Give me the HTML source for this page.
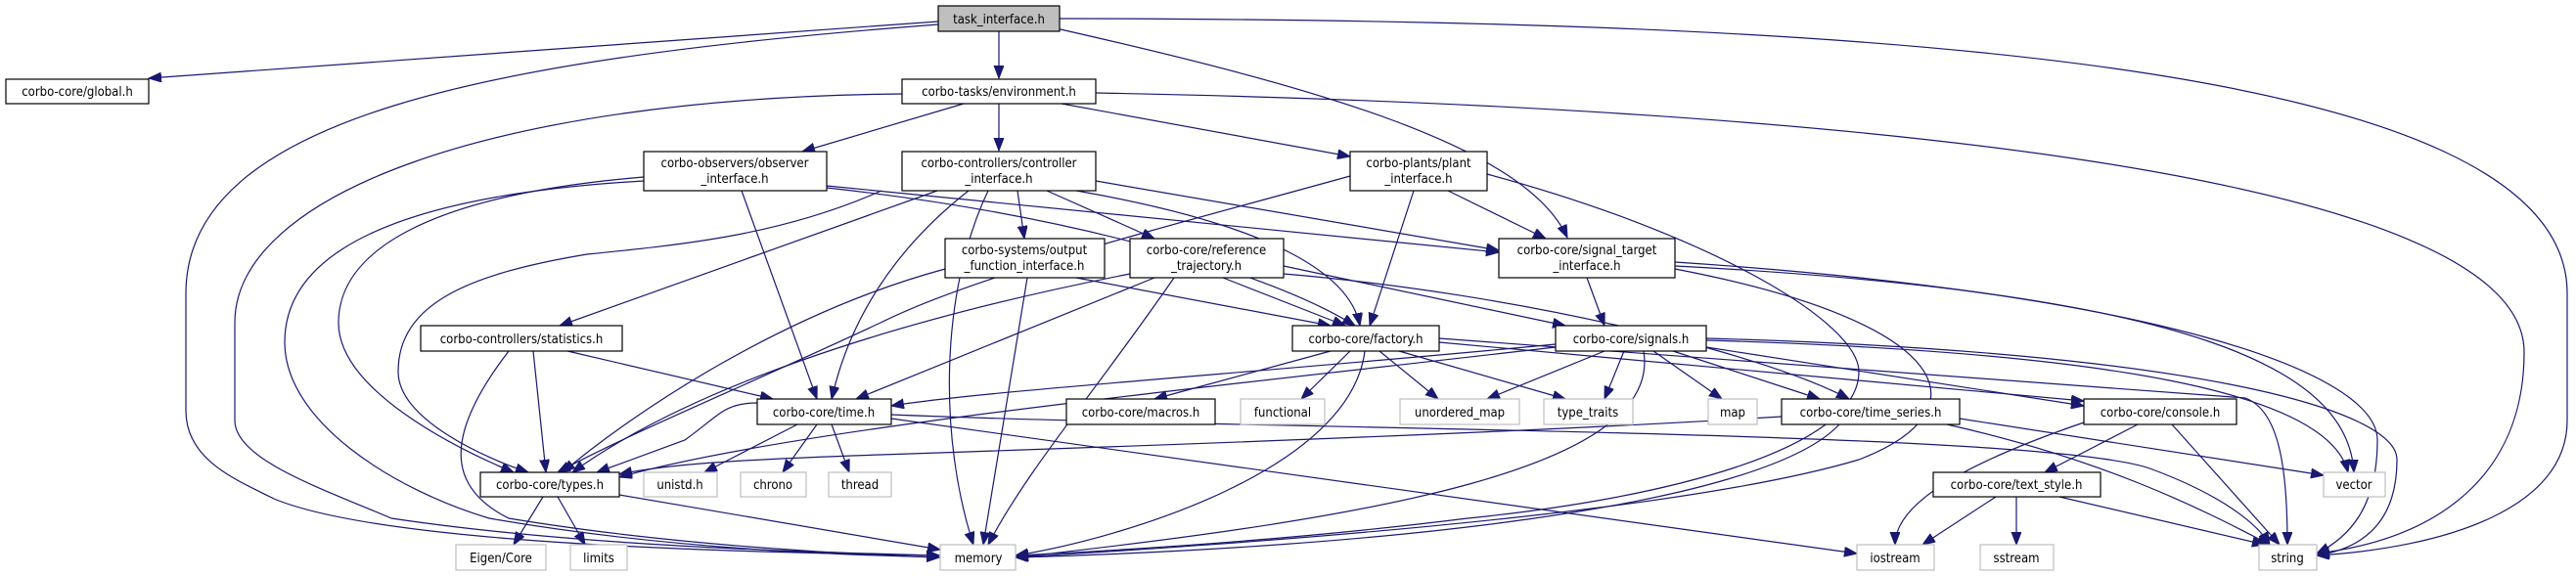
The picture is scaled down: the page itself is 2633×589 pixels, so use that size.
<!DOCTYPE html>
<html><head><meta charset="utf-8"><style>
html,body{margin:0;padding:0;background:#fff;}
svg{display:block}
text{font-family:"DejaVu Sans Condensed","Liberation Sans",sans-serif;font-size:13px;fill:#000;text-anchor:middle}
.e{fill:none;stroke:#191970;stroke-width:1.2}
.b{fill:#fff;stroke:#000;stroke-width:1.2}
.g{fill:#fff;stroke:#bfbfbf;stroke-width:1.2}
</style></head><body>
<svg width="2633" height="589" viewBox="0 0 2633 589" xmlns="http://www.w3.org/2000/svg">
<defs><marker id="a" markerUnits="userSpaceOnUse" markerWidth="14" markerHeight="12" refX="13" refY="5" orient="auto"><path d="M0,0 L13,5 L0,10 z" fill="#191970" stroke="#191970"/></marker></defs>
<g class="e" marker-end="url(#a)">
<path d="M959,22 L152,80"/>
<path d="M1021,32 L1021,80"/>
<path d="M959,25 C500,60 190,120 190,300 L190,420 C190,470 240,490 280,510 C400,560 800,565 960,568"/>
<path d="M1075,28 C1350,90 1560,150 1602,243"/>
<path d="M1083,19 C1900,20 2624,60 2624,300 L2624,430 C2624,520 2500,560 2368,568"/>
<path d="M985,106 L820,155"/>
<path d="M1021,106 L1021,154"/>
<path d="M1085,106 L1380,160"/>
<path d="M922,96 C500,100 240,200 240,330 L240,430 C240,470 330,500 400,530 C600,560 850,565 960,568"/>
<path d="M1120,95 C1900,110 2580,180 2580,360 C2580,480 2500,550 2368,566"/>
<path d="M658,181 C430,200 346,260 346,330 C346,400 470,460 525,483"/>
<path d="M658,185 C400,200 291,260 291,350 C291,430 400,500 500,530 C700,565 900,568 960,570"/>
<path d="M758,195 L835,408"/>
<path d="M845,190 L1532,258"/>
<path d="M845,192 C1100,220 1300,280 1385,333"/>
<path d="M958,195 L572,333"/>
<path d="M901,195 C800,240 700,250 600,260 C480,280 407,310 407,380 C407,430 500,470 540,483"/>
<path d="M990,195 C920,250 870,320 850,408"/>
<path d="M1010,195 C960,300 960,450 995,557"/>
<path d="M1100,195 C1300,230 1380,280 1390,333"/>
<path d="M1040,195 L1047,244"/>
<path d="M1070,195 L1180,244"/>
<path d="M1120,185 L1532,256"/>
<path d="M1380,180 C1200,230 1000,280 900,330 C750,400 650,440 570,483"/>
<path d="M1445,195 L1400,333"/>
<path d="M1480,195 L1580,244"/>
<path d="M1520,178 C1750,240 1900,330 1900,380 C1900,460 1700,510 1500,530 C1300,555 1100,565 1038,568"/>
<path d="M1622,284 L1640,333"/>
<path d="M1712,275 C2000,330 2030,420 1900,470 C1700,530 1200,560 1038,570"/>
<path d="M1712,268 C2200,300 2430,380 2430,450 C2430,520 2400,550 2368,566"/>
<path d="M1712,272 C2250,300 2400,380 2406,483"/>
<path d="M966,275 C800,320 650,420 575,483"/>
<path d="M1100,284 L1360,333"/>
<path d="M1050,284 L1005,557"/>
<path d="M1155,280 C900,330 700,400 585,483"/>
<path d="M1180,284 L875,408"/>
<path d="M1200,284 C1120,400 1050,480 1010,557"/>
<path d="M1250,284 L1375,333"/>
<path d="M1312,272 L1600,333"/>
<path d="M1312,280 C1550,300 1800,360 1890,408"/>
<path d="M545,359 L558,483"/>
<path d="M580,359 L790,408"/>
<path d="M520,359 C450,450 460,500 520,530 C700,560 900,568 960,570"/>
<path d="M1360,359 L1180,408"/>
<path d="M1380,359 L1330,408"/>
<path d="M1410,359 L1470,408"/>
<path d="M1430,359 L1600,408"/>
<path d="M1395,359 C1380,480 1150,550 1038,568"/>
<path d="M1471,350 C1800,380 2000,400 2130,410"/>
<path d="M1471,346 L2295,407 C2330,420 2338,480 2338,557"/>
<path d="M1590,352 C1300,380 1000,400 911,415"/>
<path d="M1590,355 C1200,400 800,440 633,488"/>
<path d="M1640,359 L1520,408"/>
<path d="M1660,359 L1640,408"/>
<path d="M1690,359 L1760,408"/>
<path d="M1710,359 L1860,408"/>
<path d="M1744,355 L2130,415"/>
<path d="M1680,359 C1700,480 1400,530 1038,570"/>
<path d="M1744,348 C2150,360 2380,400 2400,483"/>
<path d="M1744,346 C2250,360 2450,420 2450,470 C2450,530 2420,560 2368,568"/>
<path d="M774,412 C740,412 735,425 700,450 L610,483"/>
<path d="M815,434 L720,483"/>
<path d="M835,434 L800,483"/>
<path d="M850,434 L868,483"/>
<path d="M911,428 L1898,566"/>
<path d="M911,424 C1300,440 2100,440 2200,480 C2280,510 2310,540 2320,557"/>
<path d="M1821,426 C1600,440 1200,455 900,465 C750,470 680,475 633,485"/>
<path d="M1880,434 C1800,520 1400,560 1038,570"/>
<path d="M2003,428 L2375,486"/>
<path d="M1990,434 C2150,470 2250,520 2320,557"/>
<path d="M2130,432 C1990,480 1937,520 1937,557"/>
<path d="M2185,434 L2090,483"/>
<path d="M2220,434 L2330,557"/>
<path d="M2040,508 L1965,557"/>
<path d="M2061,508 L2061,557"/>
<path d="M2105,508 L2315,557"/>
<path d="M555,508 L525,557"/>
<path d="M570,508 L598,557"/>
<path d="M633,506 L961,562"/>
</g>
<!-- nodes -->
<rect x="959" y="6" width="124" height="26" fill="#bfbfbf" stroke="#000" stroke-width="1.2"/><text x="1021" y="24">task_interface.h</text>
<rect class="b" x="6" y="81" width="146" height="25"/><text x="79" y="98">corbo-core/global.h</text>
<rect class="b" x="922" y="81" width="198" height="25"/><text x="1021" y="98">corbo-tasks/environment.h</text>
<rect class="b" x="658" y="155" width="187" height="40"/><text x="751" y="171">corbo-observers/observer</text><text x="751" y="187">_interface.h</text>
<rect class="b" x="922" y="155" width="198" height="40"/><text x="1021" y="171">corbo-controllers/controller</text><text x="1021" y="187">_interface.h</text>
<rect class="b" x="1380" y="155" width="140" height="40"/><text x="1450" y="171">corbo-plants/plant</text><text x="1450" y="187">_interface.h</text>
<rect class="b" x="966" y="244" width="163" height="40"/><text x="1047" y="260">corbo-systems/output</text><text x="1047" y="276">_function_interface.h</text>
<rect class="b" x="1155" y="244" width="157" height="40"/><text x="1233" y="260">corbo-core/reference</text><text x="1233" y="276">_trajectory.h</text>
<rect class="b" x="1532" y="244" width="180" height="40"/><text x="1622" y="260">corbo-core/signal_target</text><text x="1622" y="276">_interface.h</text>
<rect class="b" x="430" y="333" width="206" height="26"/><text x="533" y="351">corbo-controllers/statistics.h</text>
<rect class="b" x="1321" y="333" width="150" height="26"/><text x="1396" y="351">corbo-core/factory.h</text>
<rect class="b" x="1590" y="333" width="154" height="26"/><text x="1667" y="351">corbo-core/signals.h</text>
<rect class="b" x="774" y="408" width="137" height="26"/><text x="842" y="426">corbo-core/time.h</text>
<rect class="b" x="1090" y="408" width="152" height="26"/><text x="1166" y="426">corbo-core/macros.h</text>
<rect class="g" x="1268" y="408" width="86" height="26"/><text x="1311" y="426">functional</text>
<rect class="g" x="1431" y="408" width="122" height="26"/><text x="1492" y="426">unordered_map</text>
<rect class="g" x="1578" y="408" width="91" height="26"/><text x="1623" y="426">type_traits</text>
<rect class="g" x="1746" y="408" width="50" height="26"/><text x="1771" y="426">map</text>
<rect class="b" x="1821" y="408" width="182" height="26"/><text x="1912" y="426">corbo-core/time_series.h</text>
<rect class="b" x="2130" y="408" width="156" height="26"/><text x="2208" y="426">corbo-core/console.h</text>
<rect class="b" x="491" y="483" width="142" height="25"/><text x="562" y="500">corbo-core/types.h</text>
<rect class="g" x="658" y="483" width="75" height="25"/><text x="695" y="500">unistd.h</text>
<rect class="g" x="757" y="483" width="67" height="25"/><text x="790" y="500">chrono</text>
<rect class="g" x="847" y="483" width="64" height="25"/><text x="879" y="500">thread</text>
<rect class="b" x="1976" y="483" width="171" height="25"/><text x="2061" y="500">corbo-core/text_style.h</text>
<rect class="g" x="2375" y="483" width="63" height="25"/><text x="2406" y="500">vector</text>
<rect class="g" x="466" y="557" width="92" height="26"/><text x="512" y="575">Eigen/Core</text>
<rect class="g" x="583" y="557" width="58" height="26"/><text x="612" y="575">limits</text>
<rect class="g" x="961" y="557" width="77" height="26"/><text x="1000" y="575">memory</text>
<rect class="g" x="1898" y="557" width="79" height="26"/><text x="1937" y="575">iostream</text>
<rect class="g" x="2024" y="557" width="75" height="26"/><text x="2061" y="575">sstream</text>
<rect class="g" x="2309" y="557" width="59" height="26"/><text x="2338" y="575">string</text>
</svg>
</body></html>
